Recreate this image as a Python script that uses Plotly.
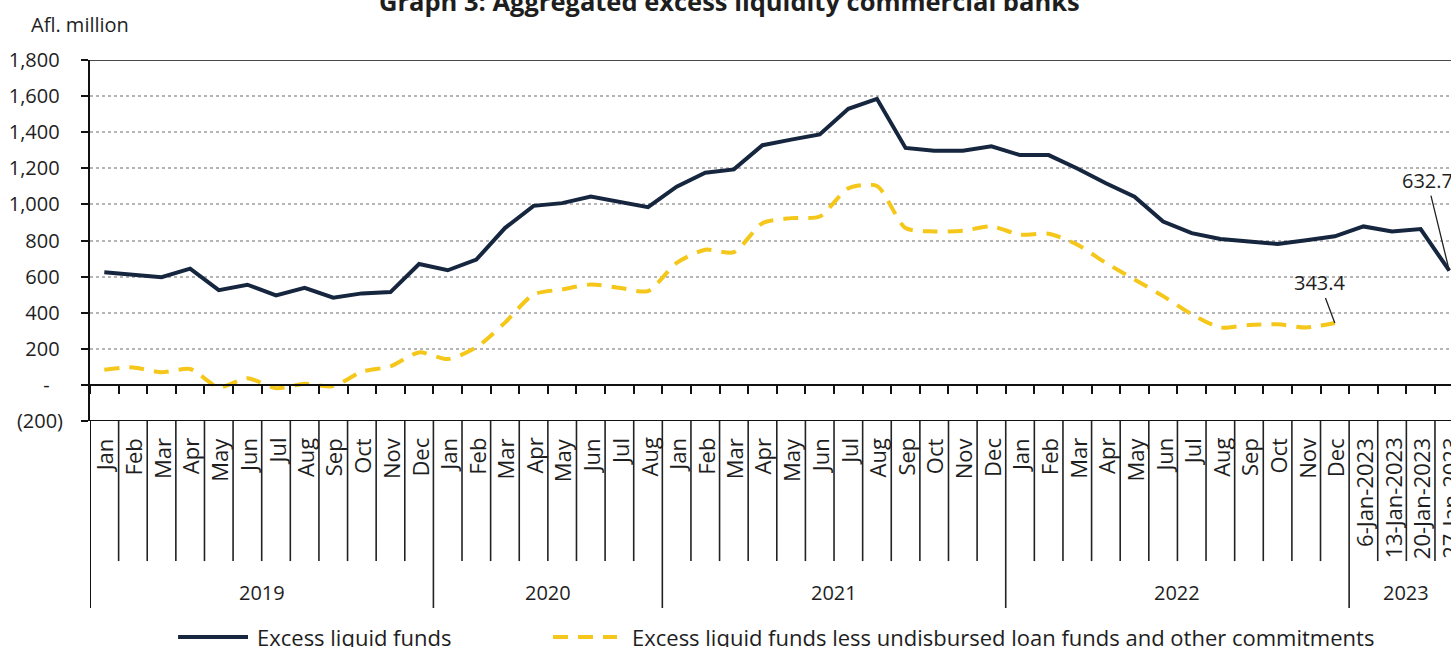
import plotly.graph_objects as go

# ---------------- data ----------------
month_labels = (
    ["Jan", "Feb", "Mar", "Apr", "May", "Jun", "Jul", "Aug", "Sep", "Oct", "Nov", "Dec"]
    + ["Jan", "Feb", "Mar", "Apr", "May", "Jun", "Jul", "Aug"]
    + ["Jan", "Feb", "Mar", "Apr", "May", "Jun", "Jul", "Aug", "Sep", "Oct", "Nov", "Dec"]
    + ["Jan", "Feb", "Mar", "Apr", "May", "Jun", "Jul", "Aug", "Sep", "Oct", "Nov", "Dec"]
    + ["6-Jan-2023", "13-Jan-2023", "20-Jan-2023", "27-Jan-2023"]
)
year_labels = ["2019", "2020", "2021", "2022", "2023"]
year_counts = [12, 8, 12, 12, 4]

excess_liquid_funds = [
    624, 611, 597, 644, 525, 555, 496, 538, 483, 507, 514, 670,
    635, 694, 869, 992, 1007, 1043, 1016, 985,
    1098, 1175, 1194, 1328, 1359, 1388, 1530, 1585, 1313, 1297, 1297, 1322,
    1273, 1273, 1199, 1117, 1043, 905, 841, 808, 795, 781, 801, 823,
    878, 850, 863, 632.7,
]
excess_less_commitments = [
    84, 97, 70, 88, -13, 37, -18, 6, -7, 73, 103, 180,
    143, 208, 345, 501, 529, 556, 538, 520,
    676, 749, 735, 896, 924, 933, 1089, 1102, 869, 850, 854, 878,
    832, 837, 777, 676, 584, 492, 391, 318, 332, 336, 318, 343.4,
    None, None, None, None,
]
y_tickvals = [-200, 0, 200, 400, 600, 800, 1000, 1200, 1400, 1600, 1800]
y_ticktext = ["(200)", "-\u2002\u2009", "200\u2009", "400\u2009", "600\u2009", "800\u2009",
              "1,000\u2009", "1,200\u2009", "1,400\u2009", "1,600\u2009", "1,800\u2009"]

series_names = ["Excess liquid funds",
                "Excess liquid funds less undisbursed loan funds and other commitments"]
navy = "#16263f"
yellow = "#f5c71a"
FONT = "Open Sans"
TXT = "#1e1e1e"

x = list(range(len(month_labels)))

fig = go.Figure()
fig.add_trace(go.Scatter(x=x, y=excess_less_commitments, mode="lines",
                         line=dict(color=yellow, width=4, dash="15px,10px",
                                   shape="spline", smoothing=0.7),
                         name=series_names[1], showlegend=False, connectgaps=False))
fig.add_trace(go.Scatter(x=x, y=excess_liquid_funds, mode="lines",
                         line=dict(color=navy, width=4),
                         name=series_names[0], showlegend=False))

shapes = []
# top border and -200 baseline
shapes.append(dict(type="line", xref="paper", yref="y", x0=0, x1=1, y0=1800, y1=1800,
                   line=dict(color="#4a4a4a", width=2)))
shapes.append(dict(type="line", xref="paper", yref="y", x0=0, x1=1, y0=-200, y1=-200,
                   line=dict(color="#111", width=2)))

# category separators below the chart
year_bounds = []
acc = 0
for c in year_counts:
    acc += c
    year_bounds.append(acc - 0.5)
shapes.append(dict(type="line", xref="x", yref="paper", x0=-0.5, x1=-0.5, y0=0, y1=-0.518,
                   line=dict(color="#111", width=2)))
for k in range(len(month_labels)):
    b = k + 0.5
    if b > 47.06:
        continue
    bottom = -0.518 if b in year_bounds else -0.388
    shapes.append(dict(type="line", xref="x", yref="paper", x0=b, x1=b, y0=0, y1=bottom,
                       line=dict(color="#222", width=1.6)))

# legend (manual)
shapes.append(dict(type="line", xref="paper", yref="paper", x0=0.0647, x1=0.1161,
                   y0=-0.598, y1=-0.598, line=dict(color=navy, width=4)))
shapes.append(dict(type="line", xref="paper", yref="paper", x0=0.3402, x1=0.3872,
                   y0=-0.598, y1=-0.598, line=dict(color=yellow, width=4, dash="15px,10px")))

annotations = []
for i, lab in enumerate(month_labels):
    annotations.append(dict(x=i, y=-200, xref="x", yref="y", text=lab, textangle=-90,
                            showarrow=False, yanchor="top", xanchor="center", yshift=-15,
                            font=dict(family=FONT, size=22, color=TXT)))
start = 0
for lab, c in zip(year_labels, year_counts):
    annotations.append(dict(x=start + (c - 1) / 2, y=-0.476, xref="x", yref="paper", text=lab,
                            showarrow=False, yanchor="middle",
                            font=dict(family=FONT, size=20, color=TXT)))
    start += c

annotations.append(dict(x=43, y=excess_less_commitments[43], xref="x", yref="y", text="343.4",
                        showarrow=True, arrowhead=0, arrowwidth=1.3, arrowcolor="#222",
                        ax=-15, ay=-40, font=dict(family=FONT, size=20, color=TXT)))
annotations.append(dict(x=47, y=excess_liquid_funds[47], xref="x", yref="y", text="632.7",
                        showarrow=True, arrowhead=0, arrowwidth=1.3, arrowcolor="#222",
                        ax=-22, ay=-90, font=dict(family=FONT, size=20, color=TXT)))

annotations.append(dict(x=-0.0448, y=1.0997, xref="paper", yref="paper", text="Afl. million",
                        showarrow=False, xanchor="left", yanchor="middle",
                        font=dict(family=FONT, size=20, color=TXT)))
annotations.append(dict(x=0.470, y=1.110, xref="paper", yref="paper",
                        text="<b>Graph 3: Aggregated excess liquidity commercial banks</b>",
                        showarrow=False, xanchor="center", yanchor="bottom",
                        font=dict(family=FONT, size=25.5, color=TXT)))
annotations.append(dict(x=0.1212, y=-0.598, xref="paper", yref="paper", text=series_names[0],
                        showarrow=False, xanchor="left", yanchor="middle",
                        font=dict(family=FONT, size=22, color=TXT)))
annotations.append(dict(x=0.3968, y=-0.598, xref="paper", yref="paper", text=series_names[1],
                        showarrow=False, xanchor="left", yanchor="middle",
                        font=dict(family=FONT, size=22, color=TXT)))

fig.update_layout(
    width=1451, height=647, autosize=False,
    margin=dict(l=90, r=0, t=60, b=226, pad=0),
    paper_bgcolor="white", plot_bgcolor="white",
    font=dict(family=FONT, size=20, color=TXT),
    showlegend=False,
    shapes=shapes, annotations=annotations,
    xaxis=dict(range=[-0.5, 47.06], anchor="free", position=0.1, automargin=False,
               showgrid=False, zeroline=False,
               showline=True, linecolor="#111", linewidth=2,
               tickmode="array", tickvals=[k + 0.5 for k in range(-1, 48)],
               ticks="outside", ticklen=8, tickwidth=2, tickcolor="#111",
               showticklabels=False),
    yaxis=dict(range=[-200, 1800], tickmode="array", tickvals=y_tickvals, ticktext=y_ticktext,
               automargin=False,
               showgrid=True, gridcolor="#b5b5b5", griddash="dot", gridwidth=1.5,
               zeroline=False, showline=True, linecolor="#111", linewidth=2,
               ticks="outside", ticklen=7, tickwidth=2, tickcolor="#111",
               ticklabelstandoff=14,
               tickfont=dict(family=FONT, size=20, color=TXT)),
)

page_fix = ("document.body.style.margin='0';"
            "document.body.style.overflow='hidden';"
            "document.documentElement.style.overflow='hidden';")
fig.write_html("out.html", post_script=page_fix, config={"displayModeBar": False})
